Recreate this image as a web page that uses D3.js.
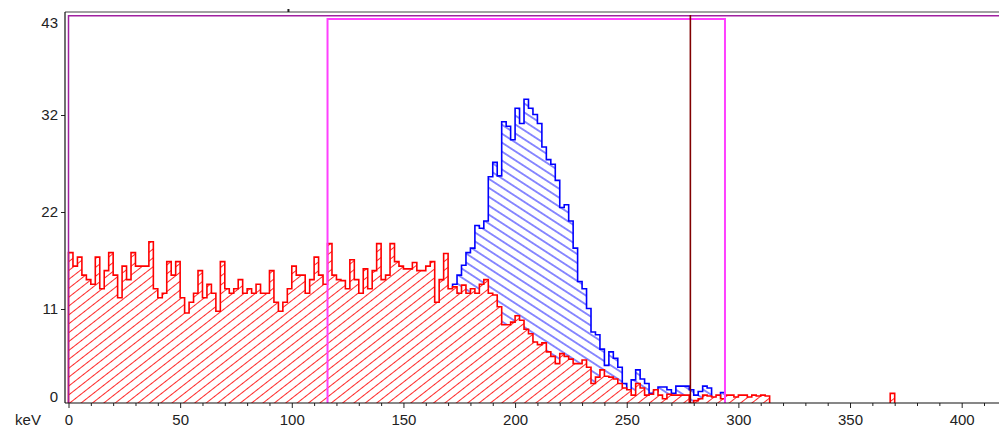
<!DOCTYPE html>
<html><head><meta charset="utf-8">
<script src="https://cdn.jsdelivr.net/npm/d3@7"></script>
<style>body{margin:0;background:#fff;} svg{display:block;font-family:"Liberation Sans",Arial,sans-serif;}</style>
</head><body><svg id="c" width="999" height="428"></svg>
<script>
// ---- data (keV bins of 2 keV, counts) ----
const binWidth = 2;
const redStart = 0;
const redCounts = [
  17,15.5,16.5,14.5,14,13.5,16.5,13,15,17,
  14.5,12,15.5,14,17,15.5,15.5,15.5,18.2,13,
  12,12.5,16,14.5,16,12,10.3,11.5,12.5,15,
  12,13.5,12.5,10.5,16,13,12.5,13,14,12.5,
  13,12.5,13.5,12.5,12.5,15,11.5,10.5,11.5,13,
  15.5,14.5,14.5,12.5,14,16.5,14.5,13.5,18,14.5,
  14,13.9,13,16.2,14,12.5,15.2,13,15,18,
  14,14.5,18,16,15.5,15.2,15.2,15.9,15,15,
  15.5,16,11.5,14,16.9,13,13.2,12.5,13.4,12.5,
  13,12.5,13.5,14,12.5,12.3,11,9,9,9.3,
  10,9.5,8.5,8,7.1,6.8,7,6,5.5,4.7,
  5.8,5.5,5.2,4.7,4.7,5.1,4.3,2.5,3.2,4,
  3.3,3.2,3,2.5,2,1.8,1.2,2.5,2,1.2,
  1.3,1.8,1.2,0.8,1.3,1.2,1.2,1.2,1.2,0.3,
  0.6,0.8,1.2,1.1,1,1.2,0.8,1.2,1.2,1,
  1.2,1.2,1,1.2,1.1,1.2,1.1,
  0,0,0,0,0,0,0,0,0,0,0,0,0,0,0,0,0,0,0,0,0,0,0,0,0,0,0,
  1.4,0
];
const blueStart = 172;
const blueCounts = [
  13.5,14.5,15.6,17,17.5,20,19.7,20.5,25.4,27,
  25.5,31.5,31,29.5,33,31.3,34,33,32.3,31.3,
  28.7,27.3,26.8,25,22,22.3,20.5,17.5,13.8,13,
  10.8,8.2,7.9,6.3,4.5,6,5.3,4.3,2.5,1.8,
  2.9,4,3,2.5,1.4,1.6,2.1,2.1,1.8,1.4,
  2.2,2.2,2.2,1.8,1.2,1.6,2.2,2,0.9,0.6,
  1.5,0.5
];
const xTickValues = [0,50,100,150,200,250,300,350,400];
const xMinorTicks = [10,20,30,40,60,70,80,90,110,120,130,140,160,170,180,190,210,220,230,240,260,270,280,290,310,320,330,340,360,370,380,390,410];
const yTickValues = [0, 10.75, 21.5, 32.25, 43];
const roiOuterStart = 0;
const roiInner = [116, 294];
const markerKeV = 278.5;
const topTickKeV = 98.5;

// ---- layout ----
const svg = d3.select("#c");
const P = {left:65, top:12, right:999, bottom:403};
const x = d3.scaleLinear().domain([0,416]).range([68.5,997.4]);
const y = d3.scaleLinear().domain([0,43]).range([406,18]);

const defs = svg.append("defs");
defs.append("clipPath").attr("id","clip").append("rect")
  .attr("x",P.left).attr("y",P.top).attr("width",P.right-P.left).attr("height",P.bottom-P.top);
function hatch(id,color,angle,gap){
  const p = defs.append("pattern").attr("id",id).attr("patternUnits","userSpaceOnUse")
    .attr("width",gap).attr("height",gap).attr("patternTransform",`rotate(${angle})`);
  p.append("line").attr("x1",-1).attr("y1",gap/2).attr("x2",gap+1).attr("y2",gap/2)
    .attr("stroke",color).attr("stroke-width",1);
}
hatch("hRed","#ff2a2a",-38,7);
hatch("hBlue","#1a1aff",33,7.5);

function steps(start, counts){
  const pts = counts.map((v,i)=>({k:start+i*binWidth, v}));
  pts.push({k:start+counts.length*binWidth, v:0});
  return pts;
}
const area = d3.area().x(d=>x(d.k)).y0(y(0)).y1(d=>y(d.v)).curve(d3.curveStepAfter);
const line = d3.line().x(d=>x(d.k)).y(d=>y(d.v)).curve(d3.curveStepAfter);

const g = svg.append("g").attr("clip-path","url(#clip)");
const bluePts = steps(blueStart, blueCounts);
const redPts = steps(redStart, redCounts);

g.append("path").attr("d",area(bluePts)).attr("fill","#fff");
g.append("path").attr("d",area(bluePts)).attr("fill","url(#hBlue)");
g.append("path").attr("d",line([{k:blueStart,v:0},...bluePts])).attr("fill","none")
  .attr("stroke","#0000ff").attr("stroke-width",1.6);

g.append("path").attr("d",area(redPts)).attr("fill","#fff");
g.append("path").attr("d",area(redPts)).attr("fill","url(#hRed)");
g.append("path").attr("d",line([{k:redStart,v:0},...redPts])).attr("fill","none")
  .attr("stroke","#ff0000").attr("stroke-width",1.6);

// ROI markers
g.append("path").attr("fill","none").attr("stroke","#a020a0").attr("stroke-width",1.5)
  .attr("d",`M${x(roiOuterStart)},${P.bottom}V15.7H${P.right}`);
g.append("path").attr("fill","none").attr("stroke","#ff40ff").attr("stroke-width",2)
  .attr("d",`M${x(roiInner[0])},${P.bottom}V19H${x(roiInner[1])}V${P.bottom}`);
g.append("line").attr("x1",x(markerKeV)).attr("x2",x(markerKeV)).attr("y1",15).attr("y2",P.bottom)
  .attr("stroke","#800000").attr("stroke-width",1.6);

// axes
const xAxis = svg.append("g").attr("transform",`translate(0,${P.bottom})`)
  .call(d3.axisBottom(x).tickValues(xTickValues).tickSize(5).tickPadding(6));
const xMinor = svg.append("g").attr("transform",`translate(0,${P.bottom})`)
  .call(d3.axisBottom(x).tickValues(xMinorTicks).tickSize(3).tickFormat(""));
const yAxis = svg.append("g").attr("transform",`translate(${P.left},0)`)
  .call(d3.axisLeft(y).tickValues(yTickValues).tickFormat(d3.format(".0f")).tickSize(4).tickPadding(3));
[xAxis,xMinor,yAxis].forEach(a=>{
  a.select(".domain").remove();
  a.selectAll("text").attr("font-size",15).attr("fill","#222").attr("font-family","'Liberation Sans',Arial,sans-serif");
  a.selectAll("line").attr("stroke","#222");
});
yAxis.selectAll(".tick").filter(d=>d===0||d===43).select("line").remove();
yAxis.selectAll(".tick").filter(d=>d===43).select("text").attr("y",5);
yAxis.selectAll(".tick").filter(d=>d===0).select("text").attr("y",-9);

svg.append("text").attr("x",28).attr("y",424.5).attr("text-anchor","middle")
  .attr("font-size",15).attr("fill","#222").text("keV");

// frame
svg.append("line").attr("x1",P.left).attr("x2",P.right).attr("y1",P.top).attr("y2",P.top)
  .attr("stroke","#444").attr("stroke-width",1.2);
svg.append("line").attr("x1",P.left).attr("x2",P.left).attr("y1",P.top).attr("y2",P.bottom)
  .attr("stroke","#111").attr("stroke-width",1.2);
svg.append("line").attr("x1",P.left).attr("x2",P.right).attr("y1",P.bottom).attr("y2",P.bottom)
  .attr("stroke","#111").attr("stroke-width",1.2);
svg.append("rect").attr("x",x(topTickKeV)-1).attr("y",9).attr("width",2).attr("height",3).attr("fill","#222");
</script></body></html>
